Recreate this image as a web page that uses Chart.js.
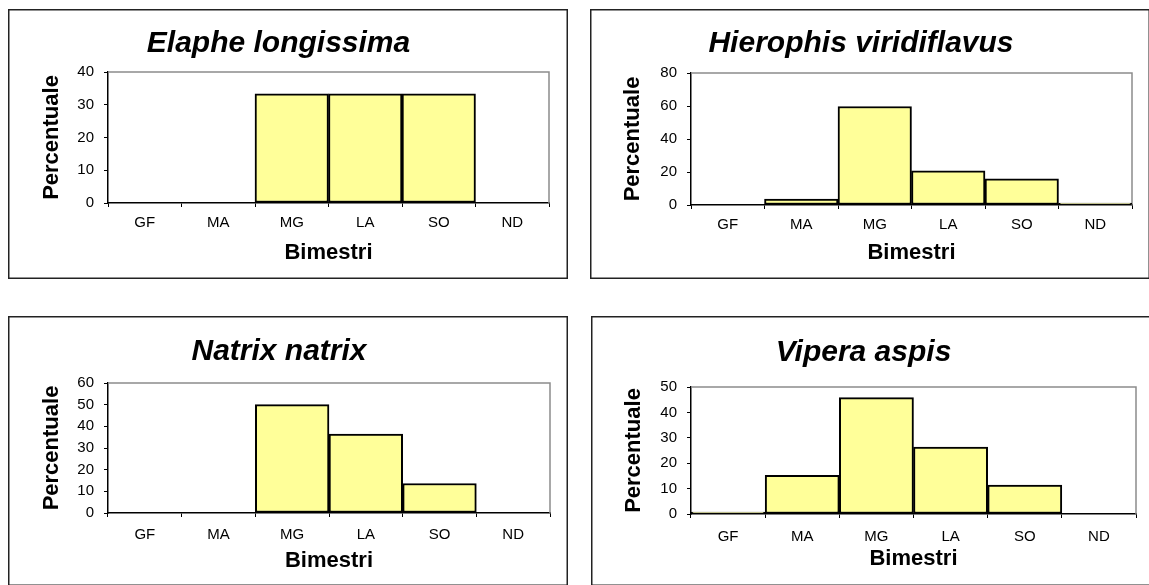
<!DOCTYPE html>
<html>
<head>
<meta charset="utf-8">
<script src="https://cdn.jsdelivr.net/npm/chart.js@4/dist/chart.umd.min.js"></script>
<style>
  html, body { margin: 0; padding: 0; background: #fff; overflow: hidden; width: 1149px; height: 585px; }
  canvas { position: absolute; }
</style>
</head>
<body>
<canvas id="c1"></canvas>
<canvas id="c2"></canvas>
<canvas id="c3"></canvas>
<canvas id="c4"></canvas>
<script>
// ---- data ----
const categories = ['GF', 'MA', 'MG', 'LA', 'SO', 'ND'];
const speciesTitles = ['Elaphe longissima', 'Hierophis viridiflavus', 'Natrix natrix', 'Vipera aspis'];
const elapheValues = [0, 0, 33.3, 33.3, 33.3, 0];
const hierophisValues = [0, 3.6, 59.7, 20.7, 15.8, 1.2];
const natrixValues = [0, 0, 50, 36.4, 13.6, 0];
const viperaValues = [0.8, 15.2, 45.8, 26.3, 11.4, 0];
const yMaxes = [40, 80, 60, 50];
const ySteps = [10, 20, 10, 10];
const xAxisTitle = 'Bimestri';
const yAxisTitle = 'Percentuale';

// ---- layout (panel geometry in page pixels) ----
const panels = [
  { id: 'c1', x: 8,   y: 9,   w: 560, h: 270, aL: 100, aR: 541, aT: 63, aB: 194, tY: 35, catOff: 20, xtOff: 26, ytX: 44, values: elapheValues },
  { id: 'c2', x: 590, y: 9,   w: 560, h: 270, aL: 101, aR: 542, aT: 64, aB: 196, tY: 35, catOff: 20, xtOff: 26, ytX: 43, values: hierophisValues },
  { id: 'c3', x: 8,   y: 316, w: 560, h: 270, aL: 100, aR: 542, aT: 67, aB: 197, tY: 36, catOff: 22, xtOff: 25, ytX: 44, values: natrixValues },
  { id: 'c4', x: 591, y: 316, w: 560, h: 270, aL: 100, aR: 545, aT: 71, aB: 198, tY: 37, catOff: 23, xtOff: 27, ytX: 43, values: viperaValues }
];

const FAMILY = '"Liberation Sans", Arial, sans-serif';
const TITLE_SIZE = 30, AXT_SIZE = 22, TICK_SIZE = 15;

const framePlugin = {
  id: 'frame',
  beforeDatasetsDraw(chart) {
    const { ctx, chartArea: a } = chart;
    ctx.save();
    ctx.strokeStyle = '#8c8c8c';
    ctx.lineWidth = 1.5;
    ctx.beginPath();
    ctx.moveTo(a.left, a.top);
    ctx.lineTo(a.right, a.top);
    ctx.lineTo(a.right, a.bottom);
    ctx.stroke();
    ctx.restore();
  },
  afterDraw(chart) {
    const { ctx, width, height } = chart;
    ctx.save();
    ctx.strokeStyle = '#222';
    ctx.lineWidth = 1.5;
    ctx.strokeRect(0.75, 0.75, width - 1.5, height - 1.5);
    ctx.restore();
  }
};

panels.forEach((p, i) => {
  const cv = document.getElementById(p.id);
  cv.style.left = p.x + 'px';
  cv.style.top = p.y + 'px';
  cv.style.width = p.w + 'px';
  cv.style.height = p.h + 'px';
  cv.width = p.w; cv.height = p.h;
  const titleLH = TITLE_SIZE * 1.2;
  const axLH = AXT_SIZE * 1.2;
  const tickLH = TICK_SIZE * 1.2;
  new Chart(cv, {
    type: 'bar',
    data: {
      labels: categories,
      datasets: [{
        data: p.values,
        backgroundColor: '#FFFF99',
        borderColor: '#000',
        borderWidth: 2,
        borderSkipped: false,
        barPercentage: 1,
        categoryPercentage: 1
      }]
    },
    options: {
      responsive: false,
      animation: false,
      devicePixelRatio: 1,
      layout: { padding: { top: 0, left: 0, bottom: 0, right: p.w - p.aR } },
      plugins: {
        legend: { display: false },
        tooltip: { enabled: false },
        title: {
          display: true,
          text: speciesTitles[i],
          color: '#000',
          font: { family: FAMILY, size: TITLE_SIZE, style: 'italic', weight: 'bold' },
          padding: { top: p.tY - titleLH / 2, bottom: p.aT - p.tY - titleLH / 2 }
        }
      },
      scales: {
        x: {
          offset: true,
          grid: { display: true, offset: true, drawOnChartArea: false, drawTicks: true, tickLength: 4, color: '#000', lineWidth: 1 },
          border: { display: true, color: '#000', width: 1.5 },
          ticks: { color: '#000', font: { family: FAMILY, size: TICK_SIZE }, padding: p.catOff - 4 - tickLH / 2, maxRotation: 0, autoSkip: false },
          title: { display: true, text: xAxisTitle, color: '#000', font: { family: FAMILY, size: AXT_SIZE, weight: 'bold' }, padding: { top: 0, bottom: p.xtOff - axLH / 2 } },
          afterFit(scale) { scale.height = p.h - p.aB; }
        },
        y: {
          min: 0, max: yMaxes[i],
          grid: { display: true, drawOnChartArea: false, drawTicks: true, tickLength: 4, color: '#000', lineWidth: 1 },
          border: { display: true, color: '#000', width: 1.5 },
          ticks: { stepSize: ySteps[i], color: '#000', font: { family: FAMILY, size: TICK_SIZE }, padding: 10 },
          title: { display: true, text: yAxisTitle, color: '#000', font: { family: FAMILY, size: AXT_SIZE, weight: 'bold' }, padding: { top: p.ytX - axLH / 2, bottom: 0 } },
          afterFit(scale) { scale.width = p.aL; }
        }
      }
    },
    plugins: [framePlugin]
  });
});
</script>
</body>
</html>
